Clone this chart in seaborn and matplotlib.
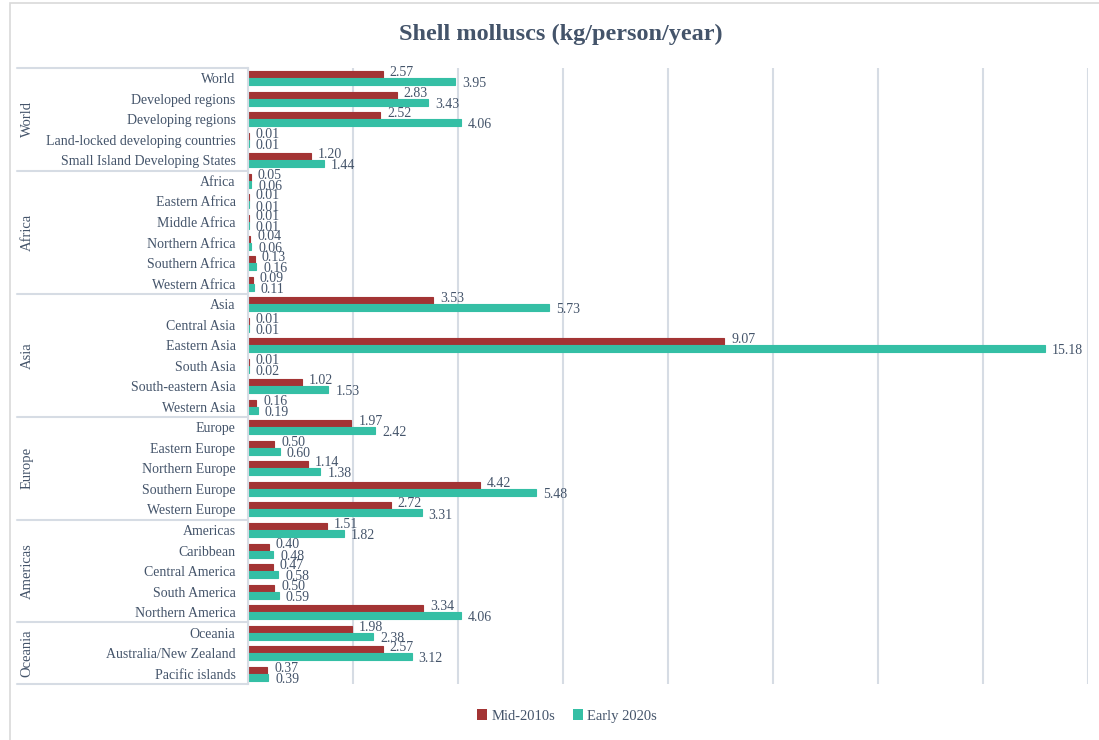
import pandas as pd
import numpy as np
import matplotlib.pyplot as plt
import matplotlib.transforms as mtransforms
from matplotlib.patches import Rectangle
import seaborn as sns

# Veriler
groups = ['World', 'Africa', 'Asia', 'Europe', 'Americas', 'Oceania']
group_sizes = [5, 6, 6, 5, 5, 3]
categories = [
    'World', 'Developed regions', 'Developing regions', 'Land-locked developing countries',
    'Small Island Developing States',
    'Africa', 'Eastern Africa', 'Middle Africa', 'Northern Africa', 'Southern Africa', 'Western Africa',
    'Asia', 'Central Asia', 'Eastern Asia', 'South Asia', 'South-eastern Asia', 'Western Asia',
    'Europe', 'Eastern Europe', 'Northern Europe', 'Southern Europe', 'Western Europe',
    'Americas', 'Caribbean', 'Central America', 'South America', 'Northern America',
    'Oceania', 'Australia/New Zealand', 'Pacific islands',
]
mid_2010s = [2.57, 2.83, 2.52, 0.01, 1.20,
             0.05, 0.01, 0.01, 0.04, 0.13, 0.09,
             3.53, 0.01, 9.07, 0.01, 1.02, 0.16,
             1.97, 0.50, 1.14, 4.42, 2.72,
             1.51, 0.40, 0.47, 0.50, 3.34,
             1.98, 2.57, 0.37]
early_2020s = [3.95, 3.43, 4.06, 0.01, 1.44,
               0.06, 0.01, 0.01, 0.06, 0.16, 0.11,
               5.73, 0.01, 15.18, 0.02, 1.53, 0.19,
               2.42, 0.60, 1.38, 5.48, 3.31,
               1.82, 0.48, 0.58, 0.59, 4.06,
               2.38, 3.12, 0.39]
series = ['Mid-2010s', 'Early 2020s']

df = pd.DataFrame({
    'Region': categories * 2,
    'Value': mid_2010s + early_2020s,
    'Period': [series[0]] * len(categories) + [series[1]] * len(categories),
})

# Stil
sns.set_style('white')
plt.rcParams['font.family'] = ['Liberation Serif', 'DejaVu Serif']
txt_color = '#44546a'
grid_color = '#d6dce4'
colors = ['#a33434', '#35bfa5']

fig = plt.figure(figsize=(10.99, 7.40), dpi=100)
ax = fig.add_axes([248 / 1099, 1 - 684 / 740, (1088 - 248) / 1099, (684 - 68) / 740])

sns.barplot(data=df, y='Region', x='Value', hue='Period', hue_order=series,
            order=categories, palette=colors, saturation=1, orient='h', width=0.68,
            linewidth=0, ax=ax, legend=True)

# çok küçük değerler de görünsün diye ince kenar
for cont in ax.containers:
    for bar in cont:
        bar.set_edgecolor(bar.get_facecolor())
        bar.set_linewidth(0.8)

ax.set_xlim(0, 16)
ax.set_ylim(len(categories) - 0.5, -0.5)
ax.set_xticks(np.arange(0, 17, 2))
ax.set_xticklabels([])
ax.tick_params(axis='x', length=0)
ax.xaxis.grid(True, color=grid_color, linewidth=1.5)
ax.set_axisbelow(True)
ax.set_xlabel('')
ax.set_ylabel('')
ax.tick_params(axis='y', length=0, pad=9, labelsize=10, labelcolor=txt_color)
for s in ['top', 'right', 'bottom']:
    ax.spines[s].set_visible(False)
ax.spines['left'].set_color(grid_color)
ax.spines['left'].set_linewidth(1.5)

# Değer etiketleri
for k, cont in enumerate(ax.containers):
    dy = 1.5 if k == 0 else -1.5
    for bar in cont:
        w = bar.get_width()
        yc = bar.get_y() + bar.get_height() / 2
        ax.annotate(f'{w:.2f}', (w, yc), xytext=(5, dy), textcoords='offset points',
                    va='center', ha='left', fontsize=10, color=txt_color)

# Grup ayırıcıları ve grup etiketleri
trans = mtransforms.blended_transform_factory(ax.transAxes, ax.transData)
x_left = (17 - 248) / 840
start = -0.5
ax.plot([x_left, 0], [start, start], transform=trans, color=grid_color, lw=1.5, clip_on=False)
for g, n in zip(groups, group_sizes):
    end = start + n
    ax.plot([x_left, 0], [end, end], transform=trans, color=grid_color, lw=1.5, clip_on=False)
    ax.text((27 - 248) / 840, (start + end) / 2, g, transform=trans, rotation=90,
            ha='center', va='center', fontsize=10.5, color=txt_color)
    start = end

# Legend
handles, labels = ax.get_legend_handles_labels()
ax.get_legend().remove()
fig.legend(handles, labels, loc='center', bbox_to_anchor=(567 / 1099, 1 - 716 / 740),
           ncol=2, frameon=False, handlelength=0.7, handleheight=0.7, handletextpad=0.3,
           columnspacing=1.2, fontsize=10.5, labelcolor=txt_color)

fig.suptitle('Shell molluscs (kg/person/year)', x=561 / 1099, y=1 - 34 / 740, va='center',
             fontsize=17.5, fontweight='bold', color=txt_color)

fig.patches.append(Rectangle((10 / 1099, -0.01), 1.1, 1 - 3 / 740 + 0.01, transform=fig.transFigure,
                             fill=False, edgecolor='#d9d9d9', linewidth=1.2))

fig.savefig('out.png', dpi=100)
